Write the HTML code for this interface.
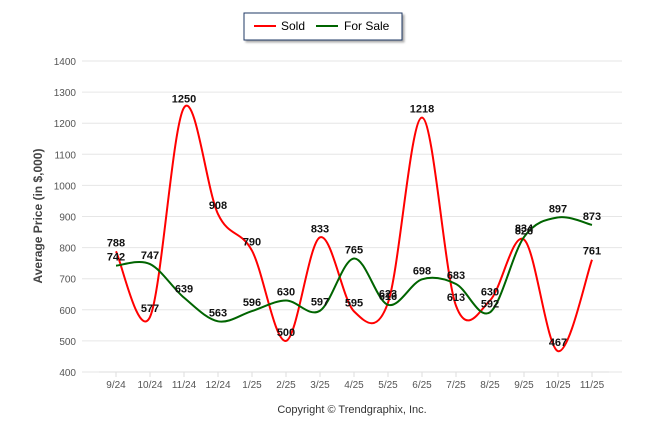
<!DOCTYPE html>
<html><head><meta charset="utf-8"><style>
body{margin:0;background:#fff;font-family:"Liberation Sans",sans-serif}
svg{display:block}
</style></head><body>
<svg id="c" width="646" height="434">
<rect x="244" y="13" width="158" height="27" fill="#fff" stroke="#1f3864" stroke-width="1" style="filter:drop-shadow(2px 2px 1px #aaa)"/>
<line x1="254" y1="26" x2="276" y2="26" stroke="#f00" stroke-width="2"/>
<text x="281" y="30" font-size="12">Sold</text>
<line x1="316" y1="26" x2="338" y2="26" stroke="#006400" stroke-width="2"/>
<text x="344" y="30" font-size="12">For Sale</text>
<text transform="translate(42,216) rotate(-90)" text-anchor="middle" font-size="12" font-weight="bold" fill="#444">Average Price (in $,000)</text>
<text x="352" y="413" text-anchor="middle" font-size="11" fill="#333">Copyright © Trendgraphix, Inc.</text>
<g id="g"></g>
</svg>
<script>
const categories=["9/24","10/24","11/24","12/24","1/25","2/25","3/25","4/25","5/25","6/25","7/25","8/25","9/25","10/25","11/25"];
const sold=[788,577,1250,908,790,500,833,595,623,1218,613,630,826,467,761];
const forSale=[742,747,639,563,596,630,597,765,616,698,683,592,834,897,873];
const yTicks=[400,500,600,700,800,900,1000,1100,1200,1300,1400];
const NS="http://www.w3.org/2000/svg";
const g=document.getElementById('g');
const x=i=>116+i*34;
const y=v=>372-(v-400)*0.311;
function mk(t,a){const e=document.createElementNS(NS,t);for(const k in a)e.setAttribute(k,a[k]);g.appendChild(e);return e;}
yTicks.forEach(v=>{
 const l=mk('line',{x1:82,x2:622,y1:y(v),y2:y(v),stroke:'#e6e6e6'});
 
 
 const t=mk('text',{x:76,y:y(v)+4,'text-anchor':'end','font-size':10,fill:'#555'});
 t.textContent=v;
 
 
});
const ax=mk('line',{x1:99,x2:609,y1:372,y2:372,stroke:'#ddd'});


categories.forEach((c,i)=>{
 const tk=mk('line',{x1:x(i),x2:x(i),y1:372,y2:377,stroke:'#ddd'});
 
 
 const t=mk('text',{x:x(i),y:388,'text-anchor':'middle','font-size':10,fill:'#555'});
 t.textContent=c;
 
 
});
function path(vals){
 const p=vals.map((v,i)=>[x(i),y(v)]);
 let d='M'+p[0][0]+','+p[0][1];
 for(let i=0;i<p.length-1;i++){
  const p0=p[i-1]||p[i],p1=p[i],p2=p[i+1],p3=p[i+2]||p2;
  const c1=[p1[0]+(p2[0]-p0[0])/6,p1[1]+(p2[1]-p0[1])/6];
  const c2=[p2[0]-(p3[0]-p1[0])/6,p2[1]-(p3[1]-p1[1])/6];
  d+=' C'+c1+' '+c2+' '+p2;
 }
 return d;
}
const ps=mk('path',{d:path(sold),fill:'none',stroke:'#f00','stroke-width':2});


const pf=mk('path',{d:path(forSale),fill:'none',stroke:'#006400','stroke-width':2});


[[sold,'sold-value-label'],[forSale,'for-sale-value-label']].forEach(([arr,n])=>{
 arr.forEach((v,i)=>{
  const t=mk('text',{x:x(i),y:y(v)-5,'text-anchor':'middle','font-size':11,'font-weight':'bold',fill:'#111'});
  t.textContent=v;
  
  
 });
});
</script>
</body></html>
